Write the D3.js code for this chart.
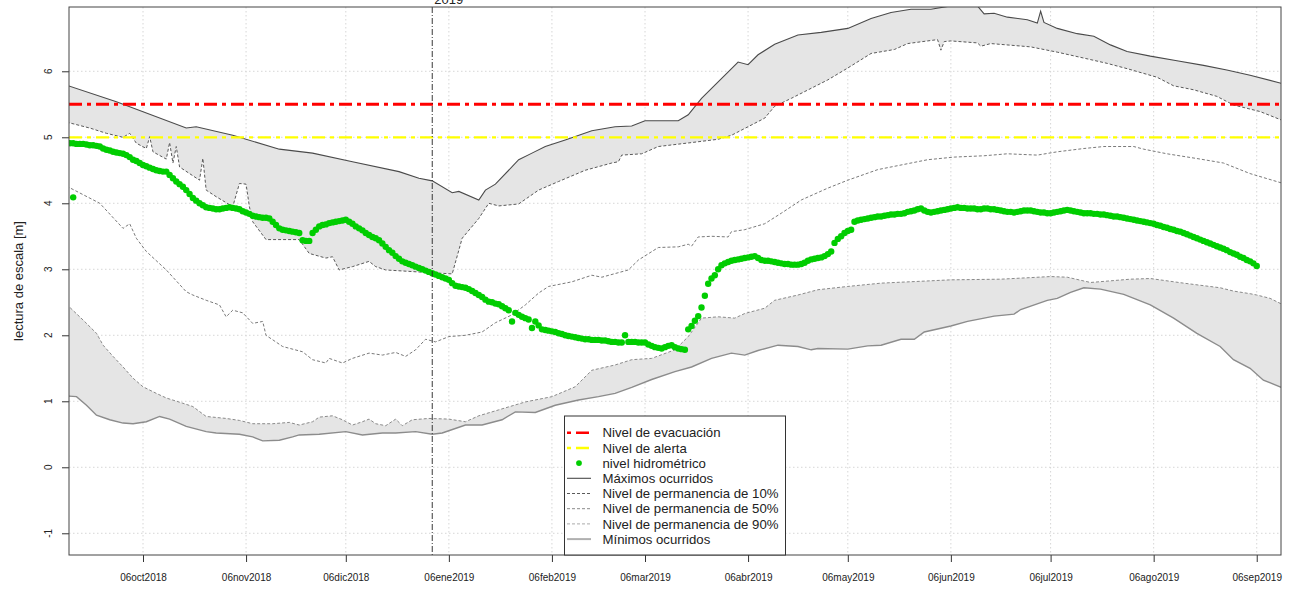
<!DOCTYPE html>
<html><head><meta charset="utf-8">
<script src="https://cdn.jsdelivr.net/npm/d3@7"></script>
<style>body{margin:0;background:#fff;} svg{display:block;font-family:"Liberation Sans",Arial,Helvetica,sans-serif;}</style>
</head><body><svg id="chart" width="1291" height="591"></svg>
<script>
// ---------------- DATA ----------------
const maximos = [["2018-09-13",5.79],["2018-09-28",5.54],["2018-10-19",5.14],["2018-10-22",5.16],["2018-11-02",5.03],["2018-11-16",4.82],["2018-11-26",4.76],["2018-12-08",4.63],["2018-12-22",4.48],["2018-12-28",4.38],["2019-01-01",4.34],["2019-01-07",4.16],["2019-01-09",4.18],["2019-01-15",4.05],["2019-01-17",4.20],["2019-01-20",4.29],["2019-01-27",4.66],["2019-01-31",4.76],["2019-02-04",4.86],["2019-02-10",4.96],["2019-02-18",5.10],["2019-02-25",5.16],["2019-03-02",5.17],["2019-03-06",5.25],["2019-03-16",5.25],["2019-03-19",5.34],["2019-03-23",5.59],["2019-03-28",5.84],["2019-04-03",6.14],["2019-04-06",6.10],["2019-04-09",6.25],["2019-04-14",6.41],["2019-04-21",6.55],["2019-04-28",6.59],["2019-05-06",6.65],["2019-05-13",6.80],["2019-05-19",6.89],["2019-05-25",6.94],["2019-05-31",6.94],["2019-06-06",6.99],["2019-06-14",6.99],["2019-06-16",6.87],["2019-06-19",6.88],["2019-06-23",6.82],["2019-06-29",6.78],["2019-07-02",6.73],["2019-07-03",6.91],["2019-07-04",6.74],["2019-07-08",6.65],["2019-07-14",6.57],["2019-07-19",6.53],["2019-07-24",6.40],["2019-07-29",6.30],["2019-08-05",6.23],["2019-08-13",6.16],["2019-08-21",6.09],["2019-08-28",6.02],["2019-09-04",5.94],["2019-09-14",5.81]];

const permanencia10 = [["2018-09-13",5.23],["2018-09-20",5.14],["2018-09-25",5.06],["2018-09-30",5.00],["2018-10-02",5.06],["2018-10-04",4.91],["2018-10-07",4.83],["2018-10-08",5.01],["2018-10-09",4.78],["2018-10-13",4.67],["2018-10-14",4.92],["2018-10-15",4.61],["2018-10-16",4.86],["2018-10-17",4.55],["2018-10-23",4.35],["2018-10-24",4.68],["2018-10-25",4.20],["2018-10-28",4.10],["2018-11-02",3.95],["2018-11-04",4.30],["2018-11-06",4.29],["2018-11-07",3.95],["2018-11-08",3.72],["2018-11-12",3.45],["2018-11-22",3.45],["2018-11-25",3.24],["2018-11-30",3.17],["2018-12-02",3.19],["2018-12-04",2.99],["2018-12-08",3.04],["2018-12-13",3.12],["2018-12-15",3.04],["2018-12-18",2.99],["2018-12-31",2.95],["2019-01-07",2.93],["2019-01-10",3.47],["2019-01-15",3.77],["2019-01-18",4.00],["2019-01-21",3.96],["2019-01-27",3.99],["2019-02-02",4.20],["2019-02-08",4.33],["2019-02-16",4.50],["2019-02-24",4.61],["2019-02-26",4.63],["2019-02-27",4.73],["2019-03-05",4.75],["2019-03-10",4.86],["2019-03-20",4.92],["2019-03-28",4.97],["2019-04-01",5.03],["2019-04-06",5.16],["2019-04-11",5.29],["2019-04-14",5.47],["2019-04-19",5.59],["2019-04-30",5.87],["2019-05-06",6.05],["2019-05-13",6.27],["2019-05-20",6.33],["2019-05-24",6.42],["2019-06-02",6.48],["2019-06-03",6.32],["2019-06-04",6.45],["2019-06-06",6.46],["2019-06-14",6.43],["2019-06-15",6.38],["2019-06-18",6.42],["2019-06-30",6.37],["2019-07-08",6.29],["2019-07-16",6.20],["2019-07-23",6.12],["2019-07-29",6.04],["2019-08-07",5.91],["2019-08-12",5.78],["2019-08-18",5.72],["2019-08-25",5.62],["2019-08-30",5.49],["2019-09-07",5.39],["2019-09-14",5.25]];

const permanencia50 = [["2018-09-13",4.26],["2018-09-23",4.00],["2018-09-30",3.62],["2018-10-02",3.69],["2018-10-04",3.47],["2018-10-07",3.27],["2018-10-13",2.99],["2018-10-19",2.66],["2018-10-21",2.61],["2018-10-25",2.53],["2018-10-29",2.46],["2018-10-31",2.28],["2018-11-02",2.38],["2018-11-05",2.34],["2018-11-08",2.18],["2018-11-11",2.21],["2018-11-12",2.00],["2018-11-17",1.83],["2018-11-23",1.75],["2018-11-26",1.63],["2018-11-30",1.58],["2018-12-01",1.65],["2018-12-05",1.58],["2018-12-08",1.65],["2018-12-13",1.73],["2018-12-17",1.70],["2018-12-21",1.74],["2018-12-24",1.68],["2018-12-27",1.78],["2018-12-30",1.94],["2019-01-02",1.90],["2019-01-06",1.98],["2019-01-11",2.00],["2019-01-16",2.05],["2019-01-20",2.19],["2019-01-25",2.31],["2019-01-29",2.46],["2019-02-02",2.64],["2019-02-05",2.74],["2019-02-12",2.81],["2019-02-18",2.91],["2019-02-21",2.88],["2019-03-01",2.99],["2019-03-04",3.14],["2019-03-10",3.33],["2019-03-16",3.34],["2019-03-19",3.38],["2019-03-20",3.35],["2019-03-22",3.49],["2019-03-26",3.50],["2019-03-31",3.49],["2019-04-01",3.57],["2019-04-05",3.60],["2019-04-11",3.69],["2019-04-16",3.85],["2019-04-22",4.05],["2019-04-30",4.23],["2019-05-06",4.35],["2019-05-15",4.51],["2019-05-22",4.58],["2019-05-30",4.66],["2019-06-07",4.70],["2019-06-16",4.72],["2019-06-23",4.75],["2019-07-02",4.73],["2019-07-08",4.78],["2019-07-16",4.83],["2019-07-22",4.86],["2019-07-31",4.86],["2019-08-03",4.82],["2019-08-10",4.75],["2019-08-20",4.67],["2019-08-27",4.61],["2019-09-04",4.45],["2019-09-14",4.30]];

const permanencia90 = [["2018-09-13",2.47],["2018-09-18",2.23],["2018-09-22",2.03],["2018-09-24",1.85],["2018-09-27",1.68],["2018-09-30",1.52],["2018-10-03",1.35],["2018-10-06",1.22],["2018-10-10",1.12],["2018-10-13",1.05],["2018-10-18",0.97],["2018-10-21",0.92],["2018-10-25",0.77],["2018-10-31",0.74],["2018-11-04",0.71],["2018-11-08",0.66],["2018-11-14",0.66],["2018-11-19",0.68],["2018-11-22",0.64],["2018-11-26",0.69],["2018-11-28",0.76],["2018-12-02",0.78],["2018-12-05",0.72],["2018-12-08",0.64],["2018-12-11",0.69],["2018-12-13",0.73],["2018-12-15",0.66],["2018-12-18",0.63],["2018-12-21",0.73],["2018-12-23",0.63],["2018-12-26",0.72],["2018-12-31",0.74],["2019-01-06",0.73],["2019-01-11",0.69],["2019-01-15",0.78],["2019-01-21",0.87],["2019-01-29",0.99],["2019-02-06",1.07],["2019-02-13",1.22],["2019-02-18",1.47],["2019-02-25",1.55],["2019-03-02",1.63],["2019-03-08",1.65],["2019-03-15",1.78],["2019-03-19",1.98],["2019-03-23",2.26],["2019-03-28",2.28],["2019-04-02",2.26],["2019-04-05",2.33],["2019-04-11",2.41],["2019-04-14",2.53],["2019-04-21",2.61],["2019-04-27",2.69],["2019-05-06",2.74],["2019-05-16",2.79],["2019-06-06",2.84],["2019-06-21",2.85],["2019-07-06",2.89],["2019-07-11",2.88],["2019-07-18",2.80],["2019-07-30",2.85],["2019-08-05",2.86],["2019-08-15",2.79],["2019-08-26",2.72],["2019-08-30",2.67],["2019-09-04",2.63],["2019-09-06",2.61],["2019-09-10",2.56],["2019-09-14",2.46]];

const minimos = [["2018-09-13",1.08],["2018-09-16",1.07],["2018-09-19",0.94],["2018-09-22",0.79],["2018-09-26",0.72],["2018-09-30",0.67],["2018-10-03",0.66],["2018-10-07",0.69],["2018-10-11",0.77],["2018-10-14",0.73],["2018-10-19",0.62],["2018-10-25",0.54],["2018-10-28",0.52],["2018-11-04",0.50],["2018-11-08",0.46],["2018-11-11",0.40],["2018-11-16",0.41],["2018-11-20",0.46],["2018-11-22",0.49],["2018-11-28",0.50],["2018-12-06",0.54],["2018-12-11",0.49],["2018-12-17",0.52],["2018-12-21",0.52],["2018-12-27",0.54],["2019-01-01",0.50],["2019-01-04",0.52],["2019-01-11",0.64],["2019-01-16",0.64],["2019-01-22",0.72],["2019-01-26",0.84],["2019-02-01",0.83],["2019-02-07",0.94],["2019-02-14",1.02],["2019-02-20",1.07],["2019-02-25",1.12],["2019-03-02",1.21],["2019-03-08",1.33],["2019-03-15",1.45],["2019-03-20",1.52],["2019-03-26",1.65],["2019-04-01",1.73],["2019-04-05",1.70],["2019-04-09",1.77],["2019-04-15",1.85],["2019-04-21",1.83],["2019-04-25",1.78],["2019-04-27",1.80],["2019-05-06",1.79],["2019-05-12",1.84],["2019-05-16",1.85],["2019-05-22",1.94],["2019-05-26",1.94],["2019-05-29",2.05],["2019-06-06",2.14],["2019-06-11",2.21],["2019-06-16",2.26],["2019-06-19",2.29],["2019-06-25",2.32],["2019-06-27",2.39],["2019-07-05",2.53],["2019-07-08",2.56],["2019-07-12",2.65],["2019-07-16",2.72],["2019-07-21",2.70],["2019-07-28",2.62],["2019-08-05",2.46],["2019-08-12",2.26],["2019-08-19",2.03],["2019-08-26",1.83],["2019-08-30",1.63],["2019-09-04",1.50],["2019-09-08",1.32],["2019-09-14",1.20]];

// nivel hidrométrico: one reading per day starting at nivelInicio
const nivelInicio = "2018-09-14";
const nivelValores = [
4.91,4.91,4.90,4.90,4.90,4.89,4.88,4.88,4.87,4.86,
4.83,4.81,4.80,4.78,4.77,4.76,4.75,4.73,4.70,4.66,
4.64,4.61,4.58,4.56,4.54,4.52,4.50,4.49,4.48,4.48,
4.43,4.38,4.33,4.29,4.25,4.20,4.14,4.08,4.04,4.00,
3.97,3.94,3.93,3.92,3.91,3.91,3.92,3.93,3.94,3.93,
3.92,3.91,3.88,3.86,3.84,3.81,3.80,3.79,3.78,3.78,
3.77,3.72,3.67,3.62,3.60,3.59,3.58,3.57,3.56,3.55,
3.44,3.43,3.43,3.55,3.60,3.65,3.67,3.68,3.70,3.71,
3.72,3.73,3.74,3.75,3.72,3.69,3.65,3.62,3.59,3.55,
3.52,3.49,3.47,3.44,3.39,3.34,3.29,3.25,3.20,3.16,
3.12,3.10,3.08,3.06,3.04,3.02,3.00,2.98,2.96,2.94,
2.92,2.90,2.88,2.86,2.84,2.79,2.75,2.74,2.73,2.72,
2.70,2.67,2.64,2.61,2.58,2.54,2.51,2.50,2.48,2.47,
2.44,2.41,2.38,2.21,2.34,2.31,2.28,2.26,2.24,2.11,
2.21,2.15,2.09,2.08,2.07,2.06,2.05,2.03,2.02,2.00,
1.99,1.98,1.97,1.96,1.95,1.94,1.94,1.93,1.93,1.93,
1.92,1.92,1.91,1.90,1.90,1.89,1.89,2.00,1.90,1.90,
1.90,1.89,1.89,1.89,1.86,1.84,1.82,1.81,1.80,1.82,
1.84,1.85,1.82,1.80,1.79,1.78,2.09,2.14,2.22,2.29,
2.42,2.60,2.78,2.86,2.91,3.00,3.06,3.09,3.11,3.13,
3.14,3.15,3.16,3.17,3.18,3.19,3.20,3.17,3.14,3.13,
3.13,3.12,3.11,3.10,3.09,3.08,3.08,3.07,3.07,3.07,
3.08,3.10,3.13,3.15,3.16,3.17,3.18,3.20,3.23,3.27,
3.40,3.46,3.50,3.55,3.58,3.60,3.72,3.74,3.75,3.76,
3.77,3.78,3.79,3.80,3.80,3.81,3.82,3.83,3.83,3.84,
3.84,3.85,3.87,3.88,3.89,3.91,3.92,3.89,3.87,3.86,
3.87,3.88,3.89,3.90,3.91,3.92,3.93,3.94,3.93,3.93,
3.92,3.92,3.92,3.91,3.91,3.92,3.92,3.91,3.91,3.90,
3.89,3.88,3.87,3.87,3.86,3.87,3.88,3.89,3.89,3.89,
3.88,3.87,3.86,3.86,3.85,3.85,3.86,3.87,3.88,3.89,
3.90,3.89,3.88,3.87,3.86,3.85,3.85,3.85,3.84,3.84,
3.83,3.83,3.82,3.81,3.80,3.80,3.79,3.78,3.77,3.76,
3.75,3.74,3.73,3.72,3.71,3.70,3.69,3.67,3.66,3.64,
3.63,3.61,3.60,3.58,3.57,3.55,3.53,3.51,3.49,3.47,
3.45,3.43,3.41,3.39,3.37,3.35,3.33,3.31,3.29,3.26,
3.24,3.22,3.19,3.17,3.14,3.12,3.09,3.05];
const nivelAislados = [["2018-09-15",4.09]];

const nivelEvacuacion = 5.5;
const nivelAlerta = 5.0;
const inicioAnio = "2019-01-01";
const inicioAnioEtiqueta = "2019";

const xTickFechas = ["2018-10-06","2018-11-06","2018-12-06","2019-01-06","2019-02-06","2019-03-06","2019-04-06","2019-05-06","2019-06-06","2019-07-06","2019-08-06","2019-09-06"];
const xTickEtiquetas = ["06oct2018","06nov2018","06dic2018","06ene2019","06feb2019","06mar2019","06abr2019","06may2019","06jun2019","06jul2019","06ago2019","06sep2019"];
const yTicks = [-1,0,1,2,3,4,5,6];
const yTitulo = "lectura de escala [m]";
const leyenda = ["Nivel de evacuación","Nivel de alerta","nivel hidrométrico","Máximos ocurridos","Nivel de permanencia de 10%","Nivel de permanencia de 50%","Nivel de permanencia de 90%","Mínimos ocurridos"];

// ---------------- CHART ----------------
const P = {left:69, right:1281, top:7, bottom:555};
const parse = d3.utcParse("%Y-%m-%d");
const x = d3.scaleUtc()
  .domain([new Date(Date.UTC(2018,8,13,17,45)), new Date(Date.UTC(2019,8,13,7,12))])
  .range([P.left, P.right]);
const y = d3.scaleLinear().domain([-1.329, 6.974]).range([P.bottom, P.top]);

const svg = d3.select("#chart");
svg.append("rect").attr("width",1291).attr("height",591).attr("fill","#fff");
svg.append("defs").append("clipPath").attr("id","clip")
  .append("rect").attr("x",P.left).attr("y",P.top).attr("width",P.right-P.left).attr("height",P.bottom-P.top);

const GRID = "#d6d6d6";
const grid = svg.append("g");
grid.selectAll("line.v").data(xTickFechas).join("line")
  .attr("x1",d=>x(parse(d))).attr("x2",d=>x(parse(d))).attr("y1",P.top).attr("y2",P.bottom)
  .attr("stroke",GRID).attr("stroke-dasharray","1.5,2.5");
grid.selectAll("line.h").data(yTicks).join("line")
  .attr("x1",P.left).attr("x2",P.right).attr("y1",d=>y(d)).attr("y2",d=>y(d))
  .attr("stroke",GRID).attr("stroke-dasharray","1.5,2.5");

const g = svg.append("g").attr("clip-path","url(#clip)");
const line = d3.line().x(d=>x(parse(d[0]))).y(d=>y(d[1]));
function band(up, low){ return line(up.concat(low.slice().reverse())) + "Z"; }

g.append("path").attr("d",band(maximos,permanencia10)).attr("fill","#e5e5e5");
g.append("path").attr("d",band(permanencia90,minimos)).attr("fill","#e5e5e5");

const series = [
  {d:maximos, c:"#4a4a4a", w:1.1, da:null},
  {d:permanencia10, c:"#5a5a5a", w:1, da:"3,2"},
  {d:permanencia50, c:"#7a7a7a", w:1, da:"3,2"},
  {d:permanencia90, c:"#8a8a8a", w:1, da:"3,2"},
  {d:minimos, c:"#8c8c8c", w:1.4, da:null}
];
series.forEach(s=>{
  g.append("path").attr("d",line(s.d)).attr("fill","none").attr("stroke",s.c)
   .attr("stroke-width",s.w).attr("stroke-dasharray",s.da);
});

// threshold lines
g.append("line").attr("x1",P.left).attr("x2",P.right).attr("y1",y(nivelEvacuacion)).attr("y2",y(nivelEvacuacion))
  .attr("stroke","#ff0000").attr("stroke-width",3).attr("stroke-dasharray","13,5,4,5");
g.append("line").attr("x1",P.left).attr("x2",P.right).attr("y1",y(nivelAlerta)).attr("y2",y(nivelAlerta))
  .attr("stroke","#ffff00").attr("stroke-width",2.3).attr("stroke-dasharray","13,5,4,5");

// year separator
const xa = x(parse(inicioAnio));
svg.append("line").attr("x1",xa).attr("x2",xa).attr("y1",P.top).attr("y2",P.bottom)
  .attr("stroke","#222").attr("stroke-width",0.9).attr("stroke-dasharray","6,2,1,2");
svg.append("text").attr("x",xa+2).attr("y",4).attr("font-size",13).attr("fill","#222").text(inicioAnioEtiqueta);

// hydrometric points
const t0 = parse(nivelInicio);
const nivel = nivelValores.map((v,i)=>[d3.utcDay.offset(t0,i), v])
  .concat(nivelAislados.map(d=>[parse(d[0]), d[1]]));
g.selectAll("circle.n").data(nivel).join("circle")
  .attr("cx",d=>x(d[0])).attr("cy",d=>y(d[1])).attr("r",3.2).attr("fill","#00cd00");

// axes
const ax = svg.append("g").attr("transform",`translate(0,${P.bottom})`)
  .call(d3.axisBottom(x).tickValues(xTickFechas.map(parse)).tickFormat((d,i)=>xTickEtiquetas[i]).tickSize(7).tickPadding(12));
ax.select(".domain").remove();
ax.selectAll("line").attr("stroke","#333");
ax.selectAll("text").attr("font-size",10).attr("fill","#222").attr("font-family","Liberation Sans, Arial, sans-serif");

const ay = svg.append("g").attr("transform",`translate(${P.left},0)`)
  .call(d3.axisLeft(y).tickValues(yTicks).tickSize(7).tickFormat(""));
ay.select(".domain").remove();
ay.selectAll("line").attr("stroke","#333");
svg.selectAll("text.yl").data(yTicks).join("text").attr("class","yl")
  .attr("transform",d=>`translate(52,${y(d)}) rotate(-90)`)
  .attr("text-anchor","middle").attr("font-size",10).attr("fill","#222").text(d=>d);

svg.append("text").attr("transform",`translate(22.5,${(P.top+P.bottom)/2}) rotate(-90)`)
  .attr("text-anchor","middle").attr("font-size",13).attr("fill","#222").text(yTitulo);

// plot frame
svg.append("rect").attr("x",P.left).attr("y",P.top).attr("width",P.right-P.left).attr("height",P.bottom-P.top)
  .attr("fill","none").attr("stroke","#444").attr("stroke-width",1);

// legend
const L = {x:564.5, y:416, w:221, h:139, lx1:567, lx2:591, tx:602.5, y0:432.7, dy:15.2};
const lg = svg.append("g");
lg.append("rect").attr("x",L.x).attr("y",L.y).attr("width",L.w).attr("height",L.h)
  .attr("fill","#fff").attr("stroke","#333").attr("stroke-width",1);
const legStyles = [
  {type:"line", c:"#ff0000", w:2.5, da:"4,5,13,5"},
  {type:"line", c:"#ffff00", w:2.5, da:"4,5,13,5"},
  {type:"dot", c:"#00cd00"},
  {type:"line", c:"#4a4a4a", w:1.1, da:null},
  {type:"line", c:"#5a5a5a", w:1, da:"3,2"},
  {type:"line", c:"#8a8a8a", w:1, da:"3,2"},
  {type:"line", c:"#aaaaaa", w:1, da:"3,2"},
  {type:"line", c:"#b0b0b0", w:2, da:null}
];
leyenda.forEach((t,i)=>{
  const yy = L.y0 + i*L.dy;
  const s = legStyles[i];
  if(s.type==="dot"){
    lg.append("circle").attr("cx",(L.lx1+L.lx2)/2).attr("cy",yy).attr("r",2.9).attr("fill",s.c);
  } else {
    lg.append("line").attr("x1",L.lx1).attr("x2",L.lx2).attr("y1",yy).attr("y2",yy)
      .attr("stroke",s.c).attr("stroke-width",s.w).attr("stroke-dasharray",s.da);
  }
  lg.append("text").attr("x",L.tx).attr("y",yy).attr("dy","0.35em").attr("font-size",13.2).attr("fill","#222").text(t);
});
</script></body></html>
